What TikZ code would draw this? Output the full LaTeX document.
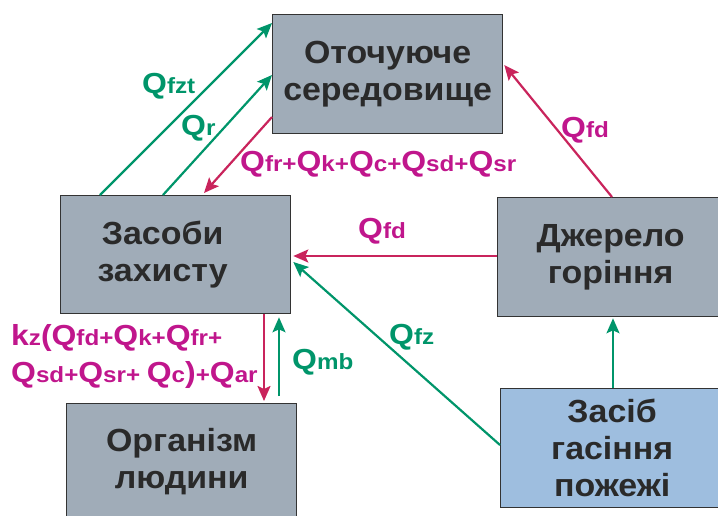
\documentclass[tikz,border=0pt]{standalone}
\usepackage{fontspec}
\setmainfont{Liberation Sans}
\newfontfamily\boxfont[FakeStretch=1.06]{Liberation Sans Bold}
\newfontfamily\labfont[FakeStretch=1.1]{Liberation Sans Bold}
\usetikzlibrary{arrows.meta,calc}
\definecolor{grn}{HTML}{00956A}
\definecolor{mag}{HTML}{C0168C}
\definecolor{crim}{HTML}{C9245C}
\definecolor{boxgray}{HTML}{A0ACB8}
\definecolor{boxblue}{HTML}{9EBEDF}
\definecolor{txt}{HTML}{2A2A2A}
\newcommand\bq{\fontsize{29}{30}\selectfont}
\newcommand\sm{\fontsize{22}{22}\selectfont}
\begin{document}
\begin{tikzpicture}[x=1pt,y=-1pt,
  blk/.style={draw=black!80,line width=1.3pt,fill=boxgray,anchor=north west,
    inner sep=0pt,align=center,text=txt,
    font=\boxfont\fontsize{32}{37}\selectfont},
  garr/.style={draw=grn,line width=2.2pt,-{Stealth[length=15pt,width=13pt,inset=3pt]}},
  marr/.style={draw=crim,line width=2.2pt,-{Stealth[length=15pt,width=13pt,inset=3pt]}},
  glab/.style={text=grn,font=\labfont,inner sep=0pt},
  mlab/.style={text=mag,font=\labfont,inner sep=0pt,align=left}]
\useasboundingbox (0,0) rectangle (718,515);
\clip (0,0) rectangle (718,515);
\node[blk,minimum width=230pt,minimum height=119pt] (env) at (272,14) {Оточуюче\\середовище};
\node[blk,minimum width=230pt,minimum height=118pt] (prot) at (60,195) {Засоби\hspace*{26pt}\\захисту\hspace*{26pt}};
\node[blk,minimum width=226pt,minimum height=119pt] (src) at (497,197) {Джерело\\горіння};
\node[blk,minimum width=230pt,minimum height=116pt] (org) at (66,403) {Організм\\людини};
\node[blk,fill=boxblue,minimum width=223pt,minimum height=119pt] (ext) at (500,388) {Засіб\\гасіння\\пожежі};
% connectors
\coordinate (a1s) at ($(prot.north west)+(40,0)$);
\coordinate (a1e) at ($(env.north west)+(0,9)$);
\draw[garr] (a1s) -- (a1e);
\coordinate (a2s) at ($(prot.north west)+(103,0)$);
\coordinate (a2e) at ($(env.north west)+(0,61)$);
\draw[garr] (a2s) -- (a2e);
\coordinate (a3s) at ($(env.north west)+(0,103)$);
\coordinate (a3e) at ($(prot.north west)+(144,-2)$);
\draw[marr] (a3s) -- (a3e);
\coordinate (a4s) at ($(src.north west)+(115,0)$);
\coordinate (a4e) at ($(env.north east)+(1,51)$);
\draw[marr] (a4s) -- (a4e);
\coordinate (a5s) at ($(src.north west)+(0,59)$);
\coordinate (a5e) at ($(prot.north east)+(2,61)$);
\draw[marr] (a5s) -- (a5e);
\coordinate (a6s) at ($(ext.north west)+(0,57)$);
\coordinate (a6e) at ($(prot.north east)+(2,67)$);
\draw[garr] (a6s) -- (a6e);
\coordinate (a7s) at ($(ext.north west)+(113,0)$);
\coordinate (a7e) at ($(src.south west)+(116,1)$);
\draw[garr] (a7s) -- (a7e);
\coordinate (a8s) at ($(prot.south west)+(204,0)$);
\coordinate (a8e) at ($(org.north west)+(198,-2)$);
\draw[marr] (a8s) -- (a8e);
\coordinate (a9s) at ($(org.north west)+(213,-7)$);
\coordinate (a9e) at ($(prot.south west)+(219,3)$);
\draw[garr] (a9s) -- (a9e);
% labels
\node[glab,anchor=west] (lfzt) at (142,86) {\bq Q\sm fzt};
\node[glab,anchor=west] (lr) at (181,128) {\bq Q\sm r};
\node[mlab,anchor=west] (lsum) at (240,164) {\bq Q{\sm fr+}Q{\sm k+}Q{\sm c+}Q{\sm sd+}Q{\sm sr}};
\node[mlab,anchor=west] (lfd1) at (561,130) {\bq Q\sm fd};
\node[mlab,anchor=west] (lfd2) at (358,231) {\bq Q\sm fd};
\node[glab,anchor=west] (lfz) at (389,337) {\bq Q\sm fz};
\node[mlab,anchor=west] (lkz1) at (11,338) {\bq k{\sm z}(Q{\sm fd+}Q{\sm k+}Q{\sm fr+}};
\node[mlab,anchor=west] (lkz2) at (11,375) {\bq Q{\sm sd+}Q{\sm sr+ }Q{\sm c}){\sm +}Q{\sm ar}};
\node[glab,anchor=west] (lmb) at (292,362) {\bq Q\sm mb};
\end{tikzpicture}
\end{document}
